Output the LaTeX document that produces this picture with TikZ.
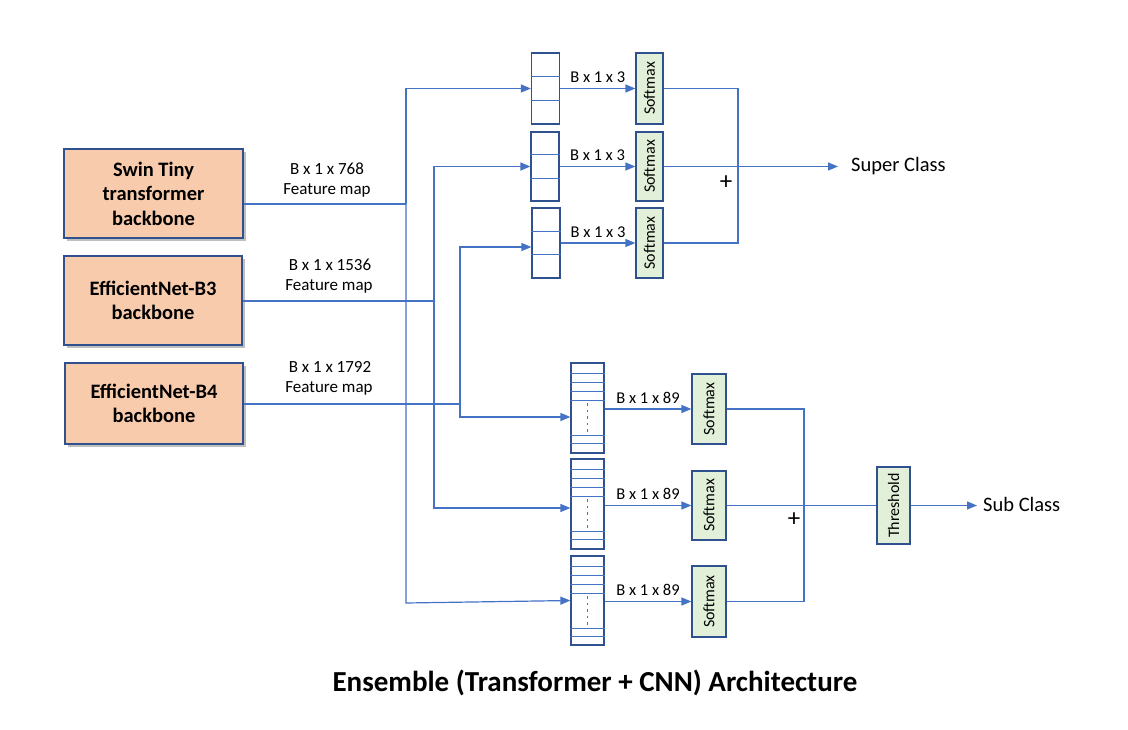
\documentclass[tikz,border=0pt]{standalone}
\usepackage{fontspec}
\setmainfont{Carlito}
\usetikzlibrary{arrows.meta,calc,shadows}
\definecolor{peach}{HTML}{F8CBAD}
\definecolor{bord}{HTML}{2F528F}
\definecolor{lgreen}{HTML}{E2F0D9}
\definecolor{conn}{HTML}{4472C4}
\tikzset{
  backbone/.style={draw=bord,fill=peach,line width=1.2pt,align=center,
    font=\bfseries\fontsize{20.5}{24.5}\selectfont,inner sep=0pt,
    drop shadow={shadow xshift=2.5pt,shadow yshift=-3pt,fill=black,opacity=0.25}},
  arrbox/.style={draw=bord,line width=1.2pt,minimum width=28pt,inner sep=0pt},
  subarr/.style={draw=bord,line width=1.2pt,minimum width=33pt,inner sep=0pt},
  smx/.style={draw=bord,fill=lgreen,line width=1.2pt,inner sep=0pt,
    font=\fontsize{16}{18}\selectfont},
  divider/.style={draw=conn,line width=1pt},
  wire/.style={draw=conn,line width=1.2pt},
  arr/.style={wire,-{Triangle[length=10pt,width=8pt]}},
  lbl/.style={font=\fontsize{16.5}{19}\selectfont,inner sep=0pt},
  flbl/.style={font=\fontsize{17}{20}\selectfont,inner sep=0pt},
  outlbl/.style={font=\fontsize{20.5}{24}\selectfont,inner sep=0pt,anchor=west},
  plus/.style={font=\fontsize{25}{28}\selectfont,inner sep=0pt}
}
\begin{document}
\begin{tikzpicture}[x=1pt,y=-1pt]
\useasboundingbox (0,0) rectangle (1128,730);
% backbones
\node[backbone,minimum width=179pt,minimum height=89pt] (swin) at (153.5,193.5) {Swin Tiny\\transformer\\backbone};
\node[backbone,minimum width=178pt,minimum height=89pt] (efb3) at (153,300.5) {EfficientNet-B3\\backbone};
\node[backbone,minimum width=178pt,minimum height=81pt] (efb4) at (154,403.5) {EfficientNet-B4\\backbone};
% feature labels
\node[flbl] (f1a) at (327,169) {B x 1 x 768};
\node[flbl] (f1b) at (327,190) {Feature map};
\node[flbl] (f2a) at (330,265) {B x 1 x 1536};
\node[flbl] (f2b) at (329,286) {Feature map};
\node[flbl] (f3a) at (330,367) {B x 1 x 1792};
\node[flbl] (f3b) at (329,388) {Feature map};
% super class arrays
\node[arrbox,minimum height=71pt] (a1) at (545.5,88.5) {};
\node[arrbox,minimum height=69pt] (a2) at (545,166.5) {};
\node[arrbox,minimum height=70pt] (a3) at (546,243) {};
\foreach \n in {a1,a2,a3}{
  \foreach \f in {0.333,0.667}{
    \draw[divider] ($(\n.north west)!\f!(\n.south west)$) -- ($(\n.north east)!\f!(\n.south east)$);
  }
}
% sub class arrays
\node[subarr,minimum height=90pt] (b1) at (587.5,408) {};
\node[subarr,minimum height=90pt] (b2) at (587.5,504) {};
\node[subarr,minimum height=89pt] (b3) at (587.5,600.5) {};
\foreach \n in {b1,b2,b3}{
  \foreach \d in {11,20,29,38,73,81}{
    \draw[divider] ($(\n.north west)+(0,\d)$) -- ($(\n.north east)+(0,\d)$);
  }
  \draw[conn,line width=1.1pt,dash pattern=on 2.5pt off 4pt] ($(\n.north)+(0,41)$) -- ($(\n.north)+(0,70)$);
}
% softmax super
\node[smx,minimum width=27pt,minimum height=71pt] (s1) at (649.5,88.5) {\rotatebox{90}{Softmax}};
\node[smx,minimum width=27pt,minimum height=69pt] (s2) at (649.5,166.5) {\rotatebox{90}{Softmax}};
\node[smx,minimum width=27pt,minimum height=70pt] (s3) at (649.5,243) {\rotatebox{90}{Softmax}};
% softmax sub
\node[smx,minimum width=34pt,minimum height=70pt] (t1) at (709,409) {\rotatebox{90}{Softmax}};
\node[smx,minimum width=34pt,minimum height=69pt] (t2) at (709,505.5) {\rotatebox{90}{Softmax}};
\node[smx,minimum width=34pt,minimum height=71pt] (t3) at (709,601.5) {\rotatebox{90}{Softmax}};
% threshold
\node[smx,minimum width=33pt,minimum height=77pt] (th) at (893.5,505.5) {\rotatebox{90}{Threshold}};
% outputs
\node[outlbl] (sup) at (851,166.5) {Super Class};
\node[outlbl] (subc) at (983,504) {Sub Class};
% buses
\coordinate (j1) at (406,204);
\coordinate (j1b) at (406,603);
\coordinate (j2) at (434,301);
\coordinate (j3) at (460,404);
\draw[wire] (swin.east |- j1) -- (j1);
\draw[wire] (efb3.east |- j2) -- (j2);
\draw[wire] (efb4.east |- j3) -- (j3);
\draw[arr] (j1) |- (a1.west);
\draw[arr] (j1) -- (j1b) -- (b3.west);
\draw[arr] (j2) |- (a2.west);
\draw[arr] (j2) |- ($(b2.west)+(0,4)$);
\draw[arr] (j3) |- ($(a3.west)+(0,4)$);
\draw[arr] (j3) |- ($(b1.west)+(0,9)$);
% array -> softmax
\draw[arr] (a1.east) -- node[lbl,above=5pt] {B x 1 x 3} (s1.west);
\draw[arr] (a2.east) -- node[lbl,above=5pt] {B x 1 x 3} (s2.west);
\draw[arr] (a3.east) -- node[lbl,above=5pt] {B x 1 x 3} (s3.west);
\draw[arr] (b1.east |- t1.west) -- node[lbl,above=5pt] {B x 1 x 89} (t1.west);
\draw[arr] (b2.east |- t2.west) -- node[lbl,above=5pt] {B x 1 x 89} (t2.west);
\draw[arr] (b3.east |- t3.west) -- node[lbl,above=5pt] {B x 1 x 89} (t3.west);
% super collect
\coordinate (cs) at (738,166.5);
\draw[wire] (s1.east) -| (cs) |- (s3.east);
\draw[arr] (s2.east) -- ([xshift=-13pt]sup.west);
\node[plus] (p1) at (726,183) {+};
% sub collect
\coordinate (cb) at (804,505.5);
\draw[wire] (t1.east) -| (cb) |- (t3.east);
\draw[wire] (t2.east) -- (th.west);
\draw[arr] (th.east) -- ([xshift=-6pt]subc.west |- th.east);
\node[plus] (p2) at (794,520) {+};
% title
\node[font=\bfseries\fontsize{29}{33}\selectfont,inner sep=0pt] (title) at (595,683) {Ensemble (Transformer + CNN) Architecture};
\end{tikzpicture}
\end{document}
